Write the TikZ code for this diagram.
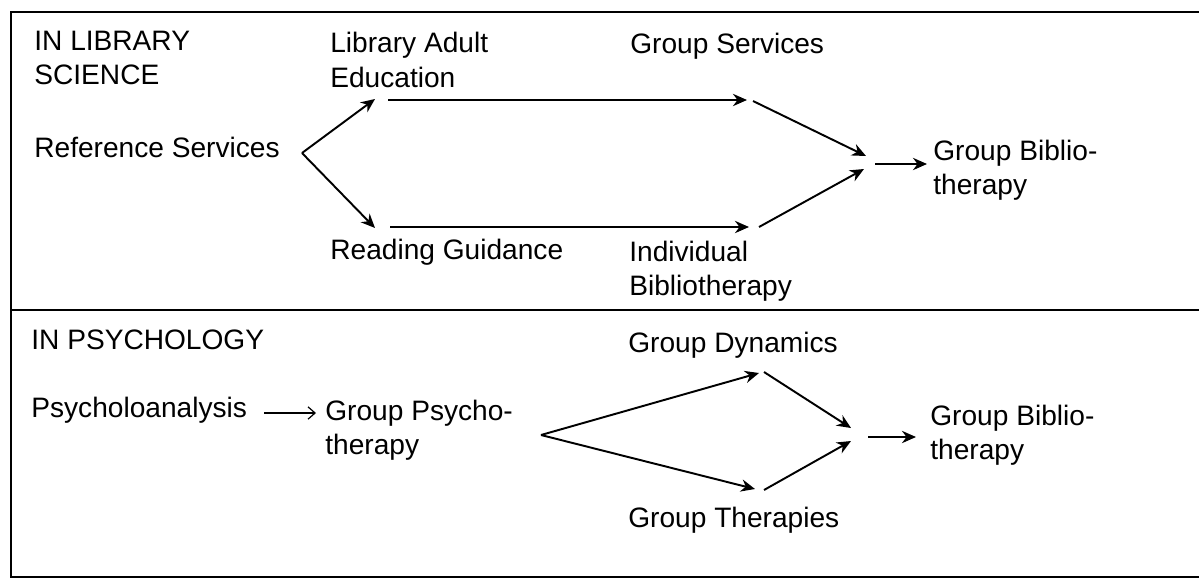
\documentclass[tikz,border=0pt]{standalone}
\usepackage{fontspec}
\setmainfont{Liberation Sans}
\usetikzlibrary{arrows.meta}

\begin{document}
\begin{tikzpicture}[
  x=0.02cm, y=-0.02cm,
  txt/.style={anchor=west, inner sep=0pt, align=left, font=\fontsize{16}{19.5}\selectfont},
  arrow/.style={-{Stealth[length=8pt, width=7pt]}, line width=1.1pt},
  thinarrow/.style={-{Straight Barb[length=4pt, width=7pt]}, line width=0.7pt}
]
  \useasboundingbox (0,0) rectangle (1199,582);

  % Frame
  \draw[line width=1.6pt] (1199,12) -- (11,12) -- (11,577) -- (1199,577);
  \draw[line width=1.3pt] (11,310) -- (1199,310);

  % Library science
  \node[txt] (libsci) at (34,58) {IN LIBRARY\\SCIENCE};
  \node[txt] (refserv) at (34,147) {Reference Services};
  \node[txt] (adulted) at (330,60) {Library Adult\\Education};
  \node[txt] (reading) at (330,252) {Reading Guidance};
  \node[txt] (grpserv) at (630,46) {Group Services};
  \node[txt] (indiv) at (629,271) {Individual\\Bibliotherapy};
  \node[txt] (grpbib1) at (933,170) {Group Biblio-\\therapy};

  \coordinate (refout) at (302,153);
  \coordinate (adultin) at (375,99);
  \coordinate (adultout) at (388,100);
  \coordinate (readin) at (375,228);
  \coordinate (readout) at (390,227);
  \coordinate (servin) at (747,100);
  \coordinate (servout) at (753,101);
  \coordinate (indivin) at (749,227);
  \coordinate (indivout) at (759,227);
  \coordinate (joinA) at (866,156);
  \coordinate (joinB) at (864,169);
  \coordinate (bibout1) at (875,164);
  \coordinate (bibin1) at (927,164);

  \draw[arrow] (refout) -- (adultin);
  \draw[arrow] (refout) -- (readin);
  \draw[arrow] (adultout) -- (servin);
  \draw[arrow] (readout) -- (indivin);
  \draw[arrow] (servout) -- (joinA);
  \draw[arrow] (indivout) -- (joinB);
  \draw[arrow] (bibout1) -- (bibin1);

  % Psychology
  \node[txt] (psych) at (31,340) {IN PSYCHOLOGY};
  \node[txt] (analysis) at (31,410) {Psycholoanalysis};
  \node[txt] (grppsy) at (325,430) {Group Psycho-\\therapy};
  \node[txt] (grpdyn) at (628,345) {Group Dynamics};
  \node[txt] (grpther) at (628,520) {Group Therapies};
  \node[txt] (grpbib2) at (930,435) {Group Biblio-\\therapy};

  \coordinate (anaout) at (264,413);
  \coordinate (psyin) at (316,413);
  \coordinate (fork) at (541,435);
  \coordinate (dynin) at (759,373);
  \coordinate (dynout) at (764,372);
  \coordinate (therin) at (755,489);
  \coordinate (therout) at (764,490);
  \coordinate (joinC) at (851,428);
  \coordinate (joinD) at (851,441);
  \coordinate (bibout2) at (868,437);
  \coordinate (bibin2) at (916,437);

  \draw[thinarrow] (anaout) -- (psyin);
  \draw[arrow] (fork) -- (dynin);
  \draw[arrow] (fork) -- (therin);
  \draw[arrow] (dynout) -- (joinC);
  \draw[arrow] (therout) -- (joinD);
  \draw[arrow] (bibout2) -- (bibin2);

\end{tikzpicture}
\end{document}
